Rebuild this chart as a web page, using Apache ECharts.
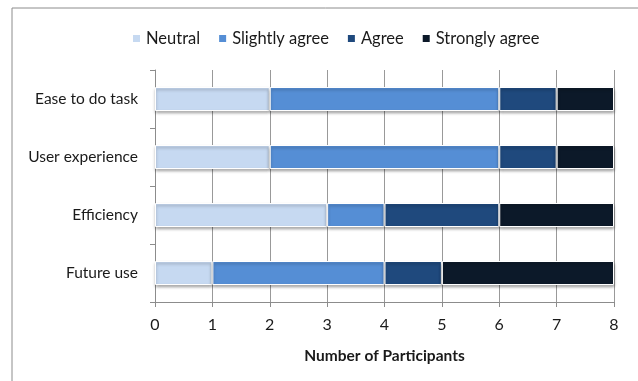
<!DOCTYPE html>
<html>
<head>
<meta charset="utf-8">
<script src="https://cdn.jsdelivr.net/npm/echarts@6/dist/echarts.min.js"></script>
<style>
  html, body { margin: 0; padding: 0; background: #fff; }
  #main { width: 638px; height: 381px; }
</style>
</head>
<body>
<div id="main"></div>
<script>
// 类别（从上到下）
var categories = ['Ease to do task', 'User experience', 'Efficiency', 'Future use'];
var seriesNames = ['Neutral', 'Slightly agree', 'Agree', 'Strongly agree'];
var neutral = [2, 2, 3, 1];
var slightlyAgree = [4, 4, 1, 3];
var agree = [1, 1, 2, 1];
var stronglyAgree = [1, 1, 2, 3];
var xTicks = [0, 1, 2, 3, 4, 5, 6, 7, 8];

var colors = ['#c6d9f1', '#558ed5', '#1f497d', '#0c1929'];
var font = 'Lato, "Open Sans", sans-serif';

var myChart = echarts.init(document.getElementById('main'));

var values = [neutral, slightlyAgree, agree, stronglyAgree];
var series = seriesNames.map(function (name, i) {
    return {
        name: name,
        type: 'bar',
        stack: 'total',
        barWidth: 24,
        data: values[i],
        itemStyle: {
            color: colors[i],
            borderColor: '#ffffff',
            borderWidth: 1,
            shadowColor: 'rgba(0,0,0,0.35)',
            shadowBlur: 3,
            shadowOffsetY: 2
        }
    };
});

myChart.setOption({
    animation: false,
    color: colors,
    textStyle: { fontFamily: font },
    graphic: [{
        type: 'rect',
        shape: { x: 12, y: 8, width: 640, height: 400 },
        style: { fill: 'none', stroke: '#8c8c8c', lineWidth: 1 },
        silent: true
    }],
    legend: {
        top: 25,
        left: 126,
        itemWidth: 9,
        itemHeight: 9,
        itemGap: 17,
        icon: 'rect',
        textStyle: { fontSize: 16.5, color: '#1a1a1a', fontFamily: font }
    },
    grid: { left: 155, right: 24, top: 70, bottom: 79 },
    xAxis: {
        type: 'value',
        min: xTicks[0],
        max: xTicks[xTicks.length - 1],
        interval: 1,
        name: 'Number of Participants',
        nameLocation: 'middle',
        nameGap: 46,
        nameTextStyle: { fontSize: 15.5, fontWeight: 'bold', color: '#1a1a1a', fontFamily: font },
        axisLine: { show: true, lineStyle: { color: '#8c8c8c' } },
        axisTick: { show: true, length: 5, lineStyle: { color: '#8c8c8c' } },
        axisLabel: { fontSize: 16, color: '#1a1a1a', margin: 15 },
        splitLine: { show: true, lineStyle: { color: '#999999', width: 1 } }
    },
    yAxis: {
        type: 'category',
        data: categories,
        inverse: true,
        axisLine: { show: true, lineStyle: { color: '#8c8c8c' } },
        axisTick: { show: true, length: 5, alignWithLabel: false, lineStyle: { color: '#8c8c8c' } },
        axisLabel: { fontSize: 15.5, color: '#1a1a1a', margin: 17 }
    },
    series: series
});
</script>
</body>
</html>
